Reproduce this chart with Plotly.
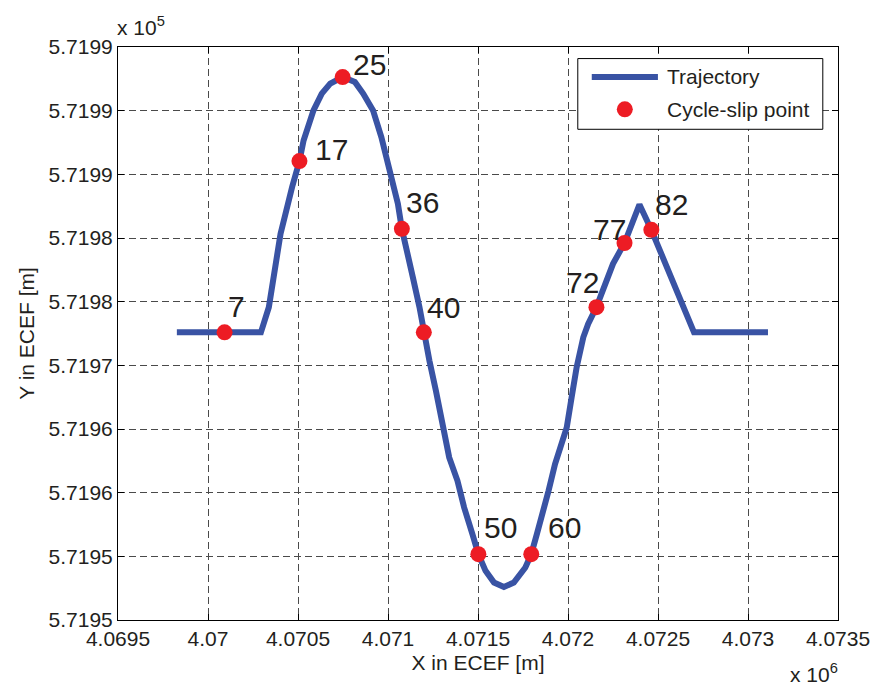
import plotly.graph_objects as go

# Receiver trajectory in ECEF (metres)
traj_x = [4069827, 4070294, 4070338, 4070403, 4070467, 4070508, 4070531, 4070586,
          4070632, 4070679, 4070748, 4070816, 4070862, 4070917, 4070963, 4071018,
          4071055, 4071077, 4071101, 4071138, 4071175, 4071199, 4071230, 4071266,
          4071303, 4071340, 4071386, 4071423, 4071469, 4071502, 4071542, 4071589,
          4071644, 4071699, 4071763, 4071796, 4071827, 4071855, 4071892, 4071928,
          4071965, 4071993, 4072020, 4072048, 4072085, 4072112, 4072158, 4072213,
          4072250, 4072314, 4072397, 4072463, 4072526, 4072590, 4072645, 4072700,
          4073111]
traj_y = [571967.59, 571967.59, 571969.56, 571975.33, 571978.99, 571981.04, 571982.66,
          571985.02, 571986.34, 571987.12, 571987.64, 571987.25, 571986.34, 571985.02,
          571982.92, 571979.78, 571977.69, 571975.72, 571974.02, 571971.92, 571969.56,
          571967.59, 571965.37, 571963.01, 571960.12, 571957.77, 571955.93, 571953.83,
          571951.74, 571950.17, 571948.86, 571947.94, 571947.60, 571947.94, 571949.12,
          571950.17, 571951.74, 571953.05, 571955.15, 571957.25, 571958.82, 571960.12,
          571962.48, 571964.84, 571967.20, 571968.25, 571969.57, 571971.66, 571972.97,
          571974.61, 571977.63, 571975.64, 571973.49, 571971.40, 571969.56, 571967.59,
          571967.59]

# Epochs where a cycle slip occurs
slip_epoch = [7, 17, 25, 36, 40, 50, 60, 72, 77, 82]
slip_x = [4070092, 4070508, 4070748, 4071077, 4071199, 4071502, 4071796, 4072158,
          4072314, 4072463]
slip_y = [571967.59, 571981.04, 571987.64, 571975.72, 571967.59, 571950.17, 571950.17,
          571969.57, 571974.61, 571975.64]

# Axis ticks
x_ticks = [4069500, 4070000, 4070500, 4071000, 4071500, 4072000, 4072500, 4073000, 4073500]
x_ticktext = ["4.0695", "4.07", "4.0705", "4.071", "4.0715", "4.072", "4.0725", "4.073", "4.0735"]
y_ticks = [571945, 571950, 571955, 571960, 571965, 571970, 571975, 571980, 571985, 571990]
y_ticktext = ["5.7195", "5.7195", "5.7196", "5.7196", "5.7197", "5.7198", "5.7198",
              "5.7199", "5.7199", "5.7199"]

traj_name = "Trajectory"
slip_name = "Cycle-slip point"

BLUE = "#3953a4"
RED = "#ed1c24"
FONT = "Liberation Sans, Arial, sans-serif"
TXT = "#231f20"

# pixel offsets of the epoch labels from their points
label_shift = [(12, 26), (32, 12), (27, 13), (21, 26), (20, 25), (22, 27), (33, 27),
               (-14, 25), (-15, 13), (20, 25)]

fig = go.Figure()
fig.add_trace(go.Scatter(x=traj_x, y=traj_y, mode="lines", name=traj_name,
                         line=dict(color=BLUE, width=6), showlegend=False))
fig.add_trace(go.Scatter(x=slip_x, y=slip_y, mode="markers", name=slip_name,
                         marker=dict(color=RED, size=16, line=dict(width=0)),
                         showlegend=False))

annotations = []
for ep, xv, yv, (dx, dy) in zip(slip_epoch, slip_x, slip_y, label_shift):
    annotations.append(dict(x=xv, y=yv, xref="x", yref="y", text=str(ep),
                            showarrow=False, xshift=dx, yshift=dy,
                            font=dict(family=FONT, size=30, color=TXT)))

# axis exponent labels
annotations.append(dict(x=0, y=1, xref="paper", yref="paper", xanchor="left",
                        yanchor="bottom", text="x 10<sup>5</sup>", showarrow=False,
                        yshift=6, xshift=-3, font=dict(family=FONT, size=21, color=TXT)))
annotations.append(dict(x=1, y=0, xref="paper", yref="paper", xanchor="right",
                        yanchor="top", text="x 10<sup>6</sup>", showarrow=False,
                        yshift=-38, xshift=2, font=dict(family=FONT, size=21, color=TXT)))

# legend box drawn in paper space
lx0, lx1, ly0, ly1 = 0.6386, 0.9789, 0.8564, 0.9798
shapes = [
    dict(type="rect", xref="paper", yref="paper", x0=lx0, x1=lx1, y0=ly0, y1=ly1,
         line=dict(color="black", width=1), fillcolor="white", layer="above"),
    dict(type="line", xref="paper", yref="paper", x0=0.658, x1=0.7499, y0=0.9477, y1=0.9477,
         line=dict(color=BLUE, width=6), layer="above"),
    dict(type="circle", xref="paper", yref="paper", xsizemode="pixel", ysizemode="pixel",
         xanchor=0.7039, yanchor=0.8913, x0=-8, x1=8, y0=-8, y1=8,
         fillcolor=RED, line=dict(width=0), layer="above"),
]
for name, yy in [(traj_name, 0.9477), (slip_name, 0.8913)]:
    annotations.append(dict(x=0.76, y=yy, xref="paper", yref="paper", xanchor="left",
                            yanchor="middle", text=name, showarrow=False,
                            font=dict(family=FONT, size=21, color=TXT)))

axis_common = dict(showgrid=True, gridcolor="#4a4a4a", gridwidth=1, griddash="7px,4px",
                   showline=True, linecolor="black", linewidth=1, mirror="ticks",
                   ticks="inside", ticklen=6, tickcolor="black", zeroline=False,
                   tickfont=dict(family=FONT, size=21, color=TXT))

fig.update_layout(
    width=882, height=690,
    margin=dict(l=118, r=39, t=47, b=70),
    paper_bgcolor="white", plot_bgcolor="white",
    showlegend=False,
    xaxis=dict(range=[4069500, 4073500], tickvals=x_ticks, ticktext=x_ticktext,
               title=dict(text="X in ECEF [m]", standoff=6,
                          font=dict(family=FONT, size=21, color=TXT)),
               **axis_common),
    yaxis=dict(range=[571945, 571990], tickvals=y_ticks, ticktext=y_ticktext,
               title=dict(text="Y in ECEF [m]", standoff=8,
                          font=dict(family=FONT, size=21, color=TXT)),
               **axis_common),
    annotations=annotations,
    shapes=shapes,
)

fig.write_html("out.html")
